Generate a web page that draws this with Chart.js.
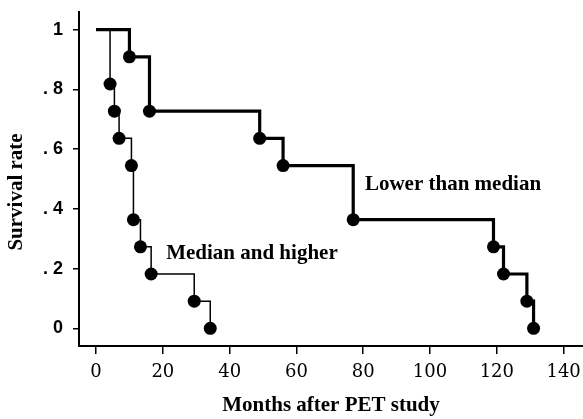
<!DOCTYPE html>
<html>
<head>
<meta charset="utf-8">
<script src="https://cdn.jsdelivr.net/npm/chart.js@4/dist/chart.umd.min.js"></script>
<style>
  html, body { margin: 0; padding: 0; background: #fff; overflow: hidden; }
  #wrap { width: 583px; height: 419px; }
</style>
</head>
<body>
<div id="wrap"><canvas id="kmChart"></canvas></div>
<script>
// survival data (months, survival rate)
const lowerMonths = [0, 10, 16, 49, 56, 77, 119, 122, 129, 131];
const lowerSurvival = [1, 0.909, 0.727, 0.636, 0.545, 0.364, 0.273, 0.182, 0.091, 0];

const higherMonths = [0, 4.2, 5.5, 6.9, 10.6, 11.2, 13.3, 16.5, 29.4, 34.2];
const higherSurvival = [1, 0.818, 0.727, 0.636, 0.545, 0.364, 0.273, 0.182, 0.091, 0];

const xTicks = [0, 20, 40, 60, 80, 100, 120, 140];
const yTicks = [0, 0.2, 0.4, 0.6, 0.8, 1];
const yTickLabels = ["0", ". 2", ". 4", ". 6", ". 8", "1"];

function toPoints(xs, ys) {
  return xs.map((x, i) => ({ x: x, y: ys[i] }));
}

// no dot on the starting point
const dotRadius = (ctx) => (ctx.dataIndex === 0 ? 0 : 6.5);

const textPlugin = {
  id: "kmText",
  afterDraw(chart) {
    const ctx = chart.ctx;
    const xs = chart.scales.x;
    const ys = chart.scales.y;
    ctx.save();
    ctx.fillStyle = "#000";
    ctx.font = "bold 21px 'Liberation Serif', serif";
    ctx.textBaseline = "middle";
    ctx.textAlign = "left";
    ctx.fillText("Lower than median", xs.getPixelForValue(80.5), ys.getPixelForValue(0.482));
    ctx.fillText("Median and higher", xs.getPixelForValue(21), ys.getPixelForValue(0.251));
    // axis titles
    ctx.textAlign = "center";
    ctx.fillText("Months after PET study", (chart.chartArea.left + chart.chartArea.right) / 2, 406);
    ctx.translate(17, 192);
    ctx.rotate(-Math.PI / 2);
    ctx.fillText("Survival rate", 0, 0);
    ctx.restore();
  }
};

const ctx = document.getElementById("kmChart").getContext("2d");
new Chart(ctx, {
  type: "scatter",
  data: {
    datasets: [
      {
        label: "Lower than median",
        data: toPoints(lowerMonths, lowerSurvival),
        showLine: true,
        stepped: true,
        borderColor: "#000",
        borderWidth: 3.2,
        pointBackgroundColor: "#000",
        pointBorderWidth: 0,
        pointRadius: dotRadius,
        pointHoverRadius: dotRadius,
      },
      {
        label: "Median and higher",
        data: toPoints(higherMonths, higherSurvival),
        showLine: true,
        stepped: true,
        borderColor: "#000",
        borderWidth: 1.5,
        pointBackgroundColor: "#000",
        pointBorderWidth: 0,
        pointRadius: dotRadius,
        pointHoverRadius: dotRadius,
      },
    ],
  },
  options: {
    responsive: true,
    maintainAspectRatio: false,
    animation: false,
    layout: { autoPadding: false, padding: { top: 12, right: 0, left: 0, bottom: 0 } },
    plugins: {
      legend: { display: false },
      tooltip: { enabled: false },
    },
    scales: {
      x: {
        type: "linear",
        min: -5.1,
        max: 145.8,
        afterBuildTicks: (scale) => { scale.ticks = xTicks.map((v) => ({ value: v })); },
        afterFit: (scale) => { scale.height = 73; scale.paddingRight = 0; scale.paddingLeft = 0; },
        border: { display: true, color: "#000", width: 2 },
        grid: { drawOnChartArea: false, drawTicks: true, tickLength: 8, color: "#000", lineWidth: 1.5 },
        ticks: {
          color: "#000",
          padding: 8,
          maxRotation: 0,
          autoSkip: false,
          font: { family: "'DejaVu Serif', serif", size: 18 },
        },
      },
      y: {
        type: "linear",
        min: -0.059,
        max: 1.059,
        afterBuildTicks: (scale) => { scale.ticks = yTicks.map((v) => ({ value: v })); },
        afterFit: (scale) => { scale.width = 79; scale.paddingTop = 0; scale.paddingBottom = 0; },
        border: { display: true, color: "#000", width: 2 },
        grid: { drawOnChartArea: false, drawTicks: true, tickLength: 6, color: "#000", lineWidth: 1.5 },
        ticks: {
          color: "#000",
          padding: 10,
          autoSkip: false,
          font: { family: "'Liberation Sans Narrow', 'Liberation Sans', sans-serif", size: 18, weight: "bold" },
          callback: (value) => {
            const i = yTicks.indexOf(value);
            return i >= 0 ? yTickLabels[i] : "";
          },
        },
      },
    },
  },
  plugins: [textPlugin],
});
</script>
</body>
</html>
